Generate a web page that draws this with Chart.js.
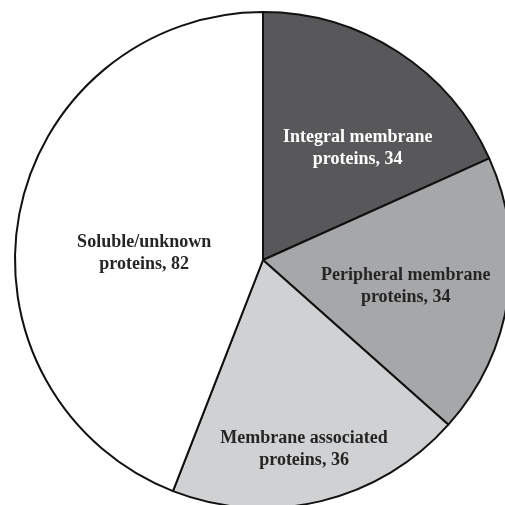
<!DOCTYPE html>
<html>
<head>
<meta charset="utf-8">
<script src="https://cdn.jsdelivr.net/npm/chart.js@4"></script>
<style>
  html, body { margin: 0; padding: 0; background: #fff; overflow: hidden; }
  #wrap { position: absolute; left: 0; top: 0; width: 526px; height: 520px; }
</style>
</head>
<body>
<div id="wrap"><canvas id="chart"></canvas></div>
<script>
const labels = [
    ["Integral membrane", "proteins, 34"],
    ["Peripheral membrane", "proteins, 34"],
    ["Membrane associated", "proteins, 36"],
    ["Soluble/unknown", "proteins, 82"]
]
const counts = [34, 34, 36, 82]
const fills = ["#58585a", "#a6a7a9", "#d0d1d3", "#ffffff"]
const textColors = ["#ffffff", "#252525", "#252525", "#252525"]

// where each label sits inside its slice: shift from mid angle (deg), fraction of radius
const labelSpots = [[7.4, 0.59], [1.6, 0.585], [1.3, 0.78], [-7.3, 0.48]]

const sliceLabels = {
    id: "sliceLabels",
    afterDatasetsDraw(chart) {
        const c = chart.ctx
        const arcs = chart.getDatasetMeta(0).data
        c.save()
        c.font = "bold 18px 'Liberation Serif', 'Times New Roman', serif"
        c.textAlign = "center"
        c.textBaseline = "middle"
        arcs.forEach((arc, i) => {
            const mid = (arc.startAngle + arc.endAngle) / 2 + labelSpots[i][0] * Math.PI / 180
            const r = arc.outerRadius * labelSpots[i][1]
            const x = arc.x + Math.cos(mid) * r
            const y = arc.y + Math.sin(mid) * r
            c.fillStyle = textColors[i]
            labels[i].forEach((line, j) => {
                c.fillText(line, x, y + (j - 0.5) * 22)
            })
        })
        c.restore()
    }
}

window.onload = () => {
    const ctx = document.getElementById("chart")
    new Chart(ctx, {
        type: "pie",
        data: {
            labels: labels.map(l => l.join(" ")),
            datasets: [{
                data: counts,
                backgroundColor: fills,
                borderColor: "#111111",
                borderWidth: 2
            }]
        },
        options: {
            responsive: true,
            maintainAspectRatio: false,
            animation: false,
            radius: 248,
            layout: { padding: 0 },
            plugins: {
                legend: { display: false },
                tooltip: { enabled: false }
            }
        },
        plugins: [sliceLabels]
    })
}
</script>
</body>
</html>
